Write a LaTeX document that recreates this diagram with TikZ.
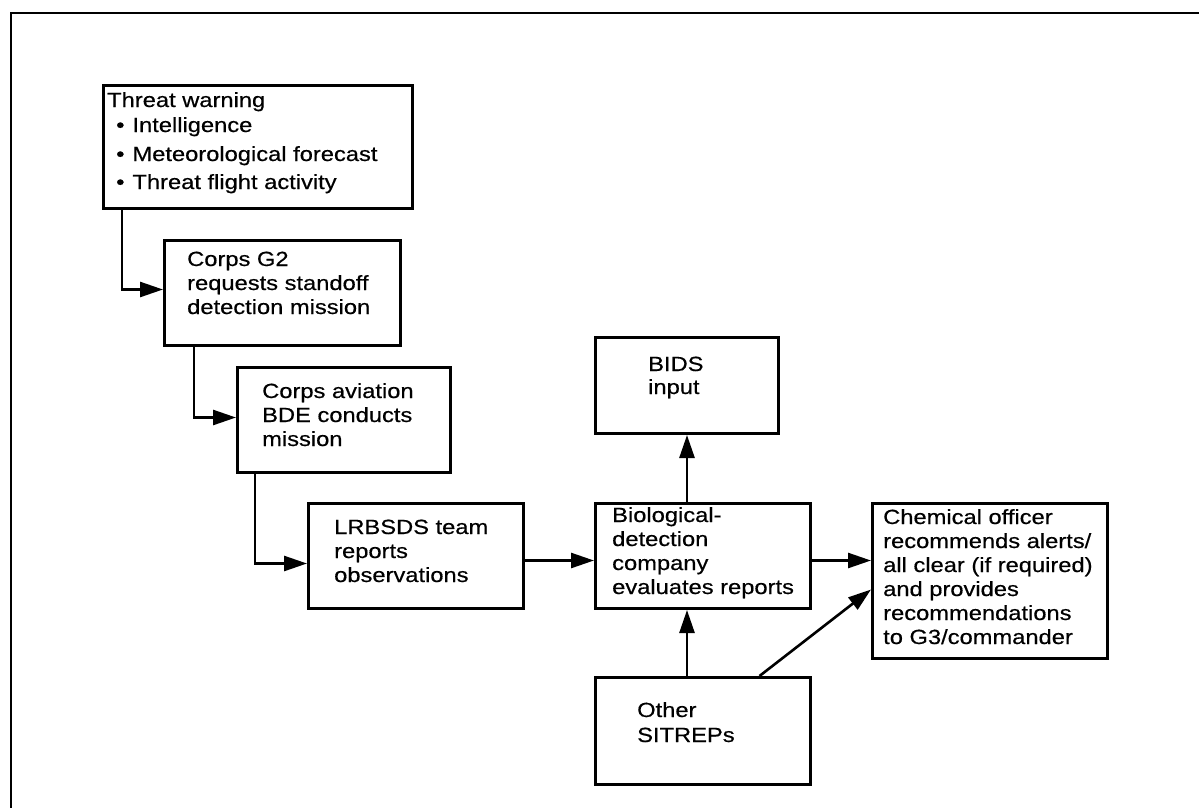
\documentclass[tikz,border=0pt]{standalone}
\usepackage{fontspec}
\setmainfont{Liberation Sans}[FakeStretch=1.156,FakeBold=0.5]
\usetikzlibrary{arrows.meta,calc}
\begin{document}
\begin{tikzpicture}[x=1pt,y=-1pt,
  box/.style={draw,line width=3pt,inner sep=0pt,anchor=north west},
  txt/.style={anchor=base west,inner sep=0pt,align=left,font=\fontsize{20.5}{24}\selectfont},
  conn/.style={line width=2.6pt,-{Triangle[length=23pt,width=15pt]}},
  frame/.style={line width=2.6pt}]
\useasboundingbox (0,0) rectangle (1199,808);
\draw[frame] (1199,13) -- (11,13) -- (11,808);

% boxes
\node[box,minimum width=309pt,minimum height=123pt] (tw) at (102,84) {};
\node[box,minimum width=236pt,minimum height=105pt] (g2) at (163,239) {};
\node[box,minimum width=213pt,minimum height=105pt] (av) at (236,366) {};
\node[box,minimum width=215pt,minimum height=105pt] (lr) at (307,502) {};
\node[box,minimum width=183pt,minimum height=96pt] (bids) at (594,336) {};
\node[box,minimum width=215pt,minimum height=105pt] (bio) at (594,502) {};
\node[box,minimum width=215pt,minimum height=107pt] (oth) at (594,676) {};
\node[box,minimum width=235pt,minimum height=155pt] (chem) at (871,502) {};

% texts (anchored at the baseline of the last line)
\node[txt] (twt) at (107,189) {Threat warning\\[1pt]\hspace*{9pt}\textbullet\hspace{8pt}Intelligence\\[5pt]\hspace*{9pt}\textbullet\hspace{8pt}Meteorological forecast\\[4pt]\hspace*{9pt}\textbullet\hspace{8pt}Threat flight activity};
\node[txt] (g2t) at (187,314) {Corps G2\\requests standoff\\detection mission};
\node[txt] (avt) at (262,446) {Corps aviation\\BDE conducts\\mission};
\node[txt] (lrt) at (334,582) {LRBSDS team\\reports\\observations};
\node[txt] (bidst) at (648,394) {BIDS\\[-1pt]input};
\node[txt] (biot) at (612,594) {Biological-\\detection\\company\\evaluates reports};
\node[txt] (otht) at (637,742) {Other\\[1pt]SITREPs};
\node[txt] (chemt) at (883,644) {Chemical officer\\recommends alerts/\\all clear (if required)\\and provides\\recommendations\\to G3/commander};

% connectors
\draw[conn] ([xshift=20pt]tw.south west) |- ([yshift=3.5pt]g2.west);
\draw[conn] ([xshift=31pt]g2.south west) |- ([yshift=2.5pt]av.west);
\draw[conn] ([xshift=19pt]av.south west) |- ([yshift=-7.5pt]lr.west);
\coordinate (p1) at ([yshift=-4.5pt]lr.east);
\draw[conn] (p1) -- (p1 -| bio.west);
\draw[conn] (bids.south |- bio.north) -- (bids.south);
\draw[conn] (bids.south |- oth.north) -- (bids.south |- bio.south);
\coordinate (p2) at ([yshift=-4.5pt]bio.east);
\draw[conn] (p2) -- (p2 -| chem.west);
\draw[conn] ([xshift=56.5pt]oth.north) -- ([yshift=-8.5pt]chem.west);
\end{tikzpicture}
\end{document}
